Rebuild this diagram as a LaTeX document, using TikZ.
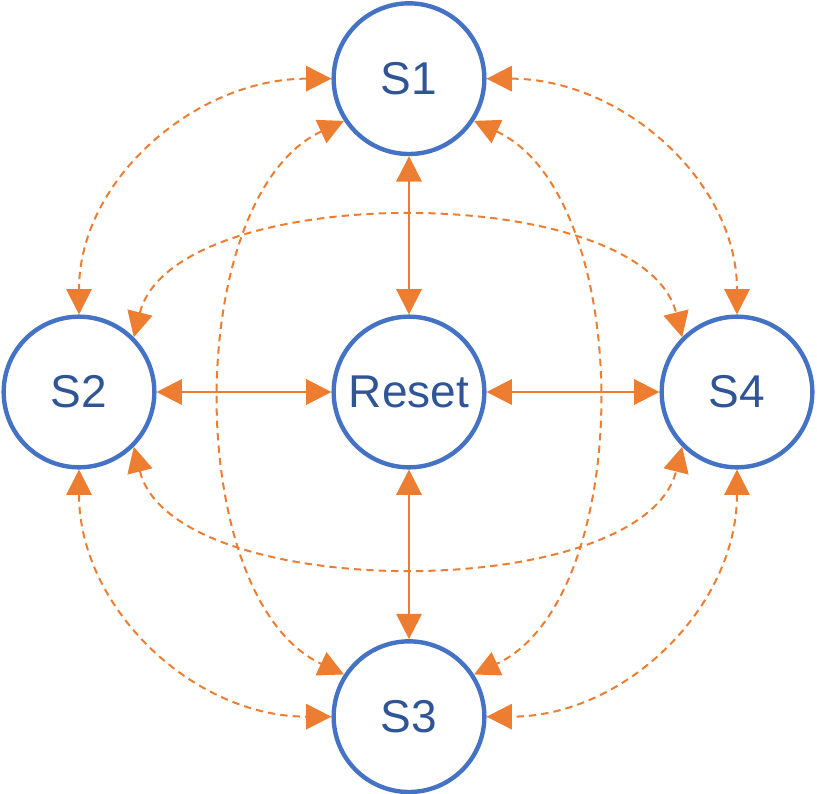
\documentclass[tikz,border=0pt]{standalone}
\usepackage{fontspec}
\setmainfont{Liberation Sans}
\usepackage{tikz}
\usetikzlibrary{arrows.meta, positioning}
\definecolor{stateblue}{HTML}{4472C4}
\definecolor{textblue}{HTML}{2F5597}
\definecolor{linkorange}{HTML}{ED7D31}
\tikzstyle{state} = [circle, draw=stateblue, line width=3.3pt, minimum size=113pt, inner sep=0pt, text=textblue, font=\fontsize{34.5}{40}\selectfont]
\tikzstyle{line} = [draw=linkorange, line width=1.7pt, {Triangle[length=19pt,width=19pt]}-{Triangle[length=19pt,width=19pt]}]
\tikzstyle{dashline} = [line, line width=1.5pt, dash pattern=on 5.5pt off 3.8pt]

\begin{document}
\begin{tikzpicture}[x=0.75pt, y=0.75pt]
        \useasboundingbox (0,0) rectangle (817,-793);
        \node [state] (reset) at (409,-392) {Reset};
        \node [state, above of=reset, node distance=235pt] (s1) {S1};
        \node [state, left of=reset, node distance=247.5pt] (s2) {S2};
        \node [state, right of=reset, node distance=246pt] (s4) {S4};
        \node [state, below of=reset, node distance=243.5pt] (s3) {S3};

        % spokes from reset
        \path [line] (s1) -- (reset);
        \path [line] (s2) -- (reset);
        \path [line] (reset) -- (s4);
        \path [line] (reset) -- (s3);

        % outer ring
        \path [dashline] (s1.west) to[out=180, in=90] (s2.north);
        \path [dashline] (s1.east) to[out=0, in=90] (s4.north);
        \path [dashline] (s2.south) to[out=-90, in=180] (s3.west);
        \path [dashline] (s4.south) to[out=-90, in=0] (s3.east);

        % inner arcs
        \path [dashline] (s2.45) to[out=76, in=104, looseness=0.76] (s4.135);
        \path [dashline] (s2.-45) to[out=-76, in=-104, looseness=0.76] (s4.-135);
        \path [dashline] (s1.213) to[out=205, in=155, looseness=0.83] (s3.147);
        \path [dashline] (s1.-33) to[out=-25, in=25, looseness=0.83] (s3.33);
    \end{tikzpicture}
\end{document}
